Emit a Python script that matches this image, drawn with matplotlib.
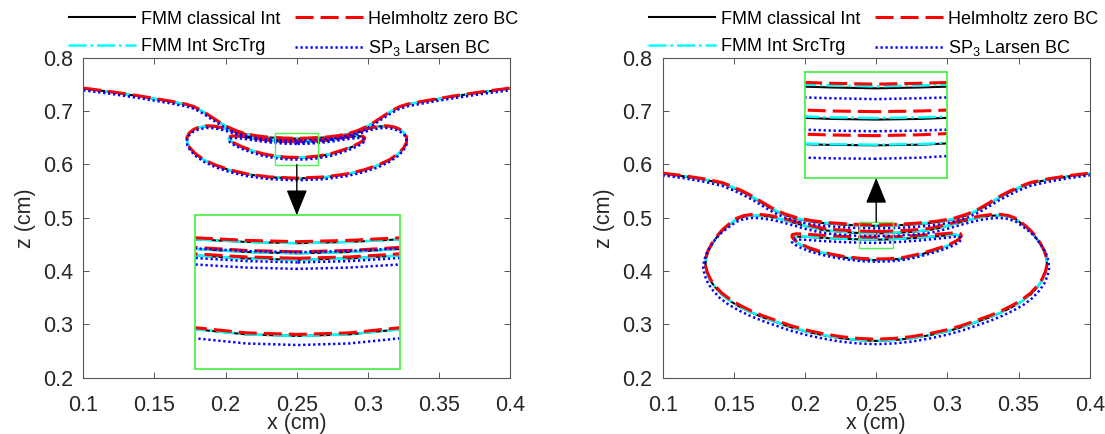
import matplotlib
matplotlib.use("Agg")
import matplotlib.pyplot as plt
from matplotlib.patches import Rectangle

plt.rcParams['font.family'] = ['Liberation Sans', 'DejaVu Sans']
plt.rcParams['mathtext.fontset'] = 'custom'
plt.rcParams['mathtext.rm'] = 'Liberation Sans'
plt.rcParams['mathtext.default'] = 'regular'

# ---------------- labels / ticks ----------------
series_labels = ['FMM classical Int', 'FMM Int SrcTrg', 'Helmholtz zero BC', 'SP$_3$ Larsen BC']
x_ticks = [0.1, 0.15, 0.2, 0.25, 0.3, 0.35, 0.4]
x_tick_labels = ['0.1', '0.15', '0.2', '0.25', '0.3', '0.35', '0.4']
z_ticks = [0.2, 0.3, 0.4, 0.5, 0.6, 0.7, 0.8]
z_tick_labels = ['0.2', '0.3', '0.4', '0.5', '0.6', '0.7', '0.8']
x_label = 'x (cm)'
z_label = 'z (cm)'

# ---------------- LEFT panel data ----------------
L_if_x = [0.100, 0.120, 0.140, 0.160, 0.172, 0.178, 0.184, 0.190, 0.196, 0.202, 0.208, 0.214,
          0.220, 0.227, 0.235, 0.2425, 0.250, 0.2575, 0.265, 0.273, 0.280, 0.286, 0.292, 0.298,
          0.304, 0.310, 0.316, 0.322, 0.328, 0.340, 0.360, 0.380, 0.400]
L_if_black = [0.7425, 0.7355, 0.7275, 0.7185, 0.7125, 0.7075, 0.6990, 0.6885, 0.6780, 0.6690, 0.6620,
              0.6570, 0.6537, 0.6512, 0.6497, 0.6487, 0.6482, 0.6487, 0.6497, 0.6512, 0.6537, 0.6570,
              0.6620, 0.6690, 0.6780, 0.6885, 0.6990, 0.7075, 0.7125, 0.7185, 0.7275, 0.7355, 0.7425]
L_if_cyan = L_if_black
L_if_red = [0.7431, 0.7361, 0.7281, 0.7191, 0.7131, 0.7081, 0.6996, 0.6891, 0.6786, 0.6696, 0.6626,
            0.6576, 0.6543, 0.6518, 0.6503, 0.6493, 0.6488, 0.6493, 0.6503, 0.6518, 0.6543, 0.6576,
            0.6626, 0.6696, 0.6786, 0.6891, 0.6996, 0.7081, 0.7131, 0.7191, 0.7281, 0.7361, 0.7431]
L_if_blue = [0.7390, 0.7320, 0.7240, 0.7150, 0.7090, 0.7040, 0.6955, 0.6850, 0.6745, 0.6655, 0.6585,
             0.6535, 0.6502, 0.6477, 0.6462, 0.6452, 0.6447, 0.6452, 0.6462, 0.6477, 0.6502, 0.6535,
             0.6585, 0.6655, 0.6745, 0.6850, 0.6955, 0.7040, 0.7090, 0.7150, 0.7240, 0.7320, 0.7390]

L_out_x = [0.250, 0.2425, 0.235, 0.227, 0.219, 0.211, 0.204, 0.198, 0.192, 0.1865, 0.1815, 0.1775,
           0.1745, 0.1728, 0.1730, 0.1750, 0.1790, 0.1850, 0.1930, 0.2030, 0.2150, 0.2300, 0.2500,
           0.2700, 0.2850, 0.2970, 0.3070, 0.3150, 0.3210, 0.3250, 0.3270, 0.3272, 0.3255, 0.3225,
           0.3185, 0.3135, 0.308, 0.302, 0.296, 0.289, 0.281, 0.273, 0.265, 0.2575, 0.250]
L_out_black = [0.6443, 0.6448, 0.6460, 0.6483, 0.6515, 0.6570, 0.6630, 0.6680, 0.6712, 0.6718, 0.6695,
               0.6650, 0.6585, 0.6500, 0.6400, 0.6300, 0.6190, 0.6080, 0.5980, 0.5890, 0.5815, 0.5760,
               0.5735, 0.5760, 0.5815, 0.5890, 0.5980, 0.6080, 0.6190, 0.6300, 0.6400, 0.6500, 0.6585,
               0.6650, 0.6695, 0.6718, 0.6712, 0.6680, 0.6630, 0.6570, 0.6515, 0.6483, 0.6460, 0.6448, 0.6443]
L_out_cyan = L_out_black
L_out_red = [0.6449, 0.6454, 0.6466, 0.6489, 0.6521, 0.6576, 0.6636, 0.6686, 0.6718, 0.6724, 0.6701,
             0.6656, 0.6591, 0.6506, 0.6406, 0.6306, 0.6196, 0.6086, 0.5986, 0.5896, 0.5821, 0.5766,
             0.5741, 0.5766, 0.5821, 0.5896, 0.5986, 0.6086, 0.6196, 0.6306, 0.6406, 0.6506, 0.6591,
             0.6656, 0.6701, 0.6724, 0.6718, 0.6686, 0.6636, 0.6576, 0.6521, 0.6489, 0.6466, 0.6454, 0.6449]
L_out_blue = [0.6408, 0.6413, 0.6425, 0.6448, 0.6480, 0.6535, 0.6595, 0.6645, 0.6677, 0.6683, 0.6660,
              0.6615, 0.6550, 0.6465, 0.6365, 0.6265, 0.6155, 0.6045, 0.5945, 0.5855, 0.5780, 0.5725,
              0.5700, 0.5725, 0.5780, 0.5855, 0.5945, 0.6045, 0.6155, 0.6265, 0.6365, 0.6465, 0.6550,
              0.6615, 0.6660, 0.6683, 0.6677, 0.6645, 0.6595, 0.6535, 0.6480, 0.6448, 0.6425, 0.6413, 0.6408]

L_in_x = [0.250, 0.2425, 0.235, 0.227, 0.219, 0.212, 0.2065, 0.2035, 0.2022, 0.2030, 0.2060, 0.2110,
          0.2180, 0.2260, 0.2350, 0.2425, 0.2500, 0.2575, 0.2650, 0.2740, 0.2820, 0.2890, 0.2940,
          0.2970, 0.2978, 0.2965, 0.2935, 0.288, 0.281, 0.273, 0.265, 0.2575, 0.250]
L_in_black = [0.6418, 0.6423, 0.6435, 0.6458, 0.6490, 0.6518, 0.6530, 0.6520, 0.6490, 0.6450, 0.6395,
              0.6330, 0.6260, 0.6195, 0.6150, 0.6130, 0.6124, 0.6130, 0.6150, 0.6195, 0.6260, 0.6330,
              0.6395, 0.6450, 0.6490, 0.6520, 0.6530, 0.6518, 0.6490, 0.6458, 0.6435, 0.6423, 0.6418]
L_in_cyan = L_in_black
L_in_red = [0.6424, 0.6429, 0.6441, 0.6464, 0.6496, 0.6524, 0.6536, 0.6526, 0.6496, 0.6456, 0.6401,
            0.6336, 0.6266, 0.6201, 0.6156, 0.6136, 0.6130, 0.6136, 0.6156, 0.6201, 0.6266, 0.6336,
            0.6401, 0.6456, 0.6496, 0.6526, 0.6536, 0.6524, 0.6496, 0.6464, 0.6441, 0.6429, 0.6424]
L_in_blue = [0.6383, 0.6388, 0.6400, 0.6423, 0.6455, 0.6483, 0.6495, 0.6485, 0.6455, 0.6415, 0.6360,
             0.6295, 0.6225, 0.6160, 0.6115, 0.6095, 0.6089, 0.6095, 0.6115, 0.6160, 0.6225, 0.6295,
             0.6360, 0.6415, 0.6455, 0.6485, 0.6495, 0.6483, 0.6455, 0.6423, 0.6400, 0.6388, 0.6383]

# zoom box and inset (left)
L_box = (0.235, 0.265, 0.5995, 0.6590)
L_inset = (0.1785, 0.3227, 0.2156, 0.5046)

# ---------------- RIGHT panel data ----------------
R_if_x = [0.100, 0.115, 0.130, 0.142, 0.150, 0.157, 0.164, 0.171, 0.178, 0.186, 0.195, 0.205, 0.215,
          0.225, 0.235, 0.2425, 0.250, 0.2575, 0.265, 0.275, 0.285, 0.295, 0.305, 0.314, 0.322, 0.329,
          0.336, 0.343, 0.350, 0.358, 0.370, 0.385, 0.400]
R_if_black = [0.5825, 0.5775, 0.5710, 0.5640, 0.5555, 0.5470, 0.5370, 0.5255, 0.5145, 0.5050, 0.4975,
              0.4925, 0.4893, 0.4872, 0.4858, 0.4852, 0.4848, 0.4852, 0.4858, 0.4872, 0.4893, 0.4925,
              0.4975, 0.5050, 0.5145, 0.5255, 0.5370, 0.5470, 0.5555, 0.5640, 0.5710, 0.5775, 0.5825]
R_if_cyan = [0.5828, 0.5780, 0.5717, 0.5648, 0.5564, 0.5479, 0.5379, 0.5264, 0.5154, 0.5059, 0.4984,
             0.4934, 0.4902, 0.4881, 0.4867, 0.4861, 0.4857, 0.4861, 0.4867, 0.4881, 0.4902, 0.4934,
             0.4984, 0.5059, 0.5154, 0.5264, 0.5379, 0.5479, 0.5564, 0.5648, 0.5717, 0.5780, 0.5828]
R_if_red = [0.5835, 0.5788, 0.5725, 0.5657, 0.5573, 0.5489, 0.5389, 0.5274, 0.5164, 0.5069, 0.4994,
            0.4944, 0.4912, 0.4891, 0.4877, 0.4871, 0.4867, 0.4871, 0.4877, 0.4891, 0.4912, 0.4944,
            0.4994, 0.5069, 0.5164, 0.5274, 0.5389, 0.5489, 0.5573, 0.5657, 0.5725, 0.5788, 0.5835]
R_if_blue = [0.5795, 0.5740, 0.5670, 0.5595, 0.5508, 0.5421, 0.5321, 0.5206, 0.5096, 0.5001, 0.4926,
             0.4876, 0.4844, 0.4823, 0.4809, 0.4803, 0.4799, 0.4803, 0.4809, 0.4823, 0.4844, 0.4876,
             0.4926, 0.5001, 0.5096, 0.5206, 0.5321, 0.5421, 0.5508, 0.5595, 0.5670, 0.5740, 0.5795]

R_big_x = [0.250, 0.2425, 0.235, 0.2225, 0.213, 0.2055, 0.1988, 0.191, 0.184, 0.177, 0.170, 0.1635,
           0.157, 0.1515, 0.1465, 0.142, 0.138, 0.1345, 0.1318, 0.1304,
           0.1300, 0.1312, 0.1335, 0.1370, 0.1415, 0.1475, 0.1545, 0.1620, 0.1700, 0.1790, 0.1890,
           0.2000, 0.2120, 0.2250, 0.2375, 0.2500,
           0.2625, 0.2750, 0.2880, 0.3000, 0.3110, 0.3210, 0.3300, 0.3380, 0.3455, 0.3525, 0.3585,
           0.3630, 0.3665, 0.3688, 0.3700, 0.3696,
           0.3682, 0.3655, 0.3620, 0.3580, 0.3535, 0.3485, 0.3430, 0.3365, 0.3300, 0.3230, 0.3160,
           0.3090, 0.3012, 0.2945, 0.2870, 0.2775, 0.2650, 0.2575, 0.2500]
R_big_black = [0.4706, 0.4709, 0.4717, 0.4740, 0.4766, 0.4810, 0.4855, 0.4915, 0.4965, 0.5010, 0.5035,
               0.5045, 0.5020, 0.4965, 0.4860, 0.4755, 0.4635, 0.4495, 0.4360, 0.4235,
               0.4100, 0.3960, 0.3820, 0.3690, 0.3560, 0.3435, 0.3325, 0.3225, 0.3135, 0.3050, 0.2955,
               0.2870, 0.2800, 0.2740, 0.2705, 0.2690,
               0.2705, 0.2740, 0.2800, 0.2870, 0.2955, 0.3050, 0.3135, 0.3225, 0.3325, 0.3435, 0.3560,
               0.3690, 0.3820, 0.3960, 0.4100, 0.4235,
               0.4360, 0.4495, 0.4635, 0.4755, 0.4860, 0.4965, 0.5020, 0.5045, 0.5035, 0.5010, 0.4965,
               0.4915, 0.4855, 0.4810, 0.4766, 0.4740, 0.4717, 0.4709, 0.4706]
R_big_cyan = [0.4713, 0.4716, 0.4723, 0.4745, 0.4770, 0.4813, 0.4857, 0.4917, 0.4967, 0.5012, 0.5037,
              0.5047, 0.5022, 0.4967, 0.4862, 0.4757, 0.4637, 0.4497, 0.4362, 0.4237,
              0.4102, 0.3962, 0.3823, 0.3693, 0.3563, 0.3439, 0.3329, 0.3229, 0.3139, 0.3054, 0.2959,
              0.2874, 0.2804, 0.2744, 0.2709, 0.2694,
              0.2709, 0.2744, 0.2804, 0.2874, 0.2959, 0.3054, 0.3139, 0.3229, 0.3329, 0.3439, 0.3563,
              0.3693, 0.3823, 0.3962, 0.4102, 0.4237,
              0.4362, 0.4497, 0.4637, 0.4757, 0.4862, 0.4967, 0.5022, 0.5047, 0.5037, 0.5012, 0.4967,
              0.4917, 0.4857, 0.4813, 0.4770, 0.4745, 0.4723, 0.4716, 0.4713]
R_big_red = [0.4742, 0.4745, 0.4752, 0.4773, 0.4798, 0.4840, 0.4884, 0.4942, 0.4990, 0.5033, 0.5057,
             0.5065, 0.5040, 0.4985, 0.4880, 0.4775, 0.4655, 0.4515, 0.4380, 0.4255,
             0.4120, 0.3985, 0.3848, 0.3718, 0.3588, 0.3465, 0.3355, 0.3255, 0.3165, 0.3080, 0.2985,
             0.2900, 0.2830, 0.2770, 0.2737, 0.2722,
             0.2737, 0.2770, 0.2830, 0.2900, 0.2985, 0.3080, 0.3165, 0.3255, 0.3355, 0.3465, 0.3588,
             0.3718, 0.3848, 0.3985, 0.4120, 0.4255,
             0.4380, 0.4515, 0.4655, 0.4775, 0.4880, 0.4985, 0.5040, 0.5065, 0.5057, 0.5033, 0.4990,
             0.4942, 0.4884, 0.4840, 0.4798, 0.4773, 0.4752, 0.4745, 0.4742]
R_big_blue_x = [0.250, 0.2425, 0.235, 0.2225, 0.213, 0.2055, 0.1988, 0.191, 0.184, 0.177, 0.170, 0.1635,
                0.157, 0.1515, 0.1460, 0.1410, 0.1368, 0.1333, 0.1305, 0.1290,
                0.1285, 0.1297, 0.1320, 0.1355, 0.1400, 0.1462, 0.1535, 0.1612, 0.1694, 0.1785, 0.1887,
                0.2000, 0.2120, 0.2250, 0.2375, 0.2500,
                0.2625, 0.2750, 0.2880, 0.3000, 0.3113, 0.3215, 0.3306, 0.3388, 0.3465, 0.3538, 0.3600,
                0.3645, 0.3680, 0.3703, 0.3715, 0.3710,
                0.3695, 0.3668, 0.3632, 0.3590, 0.3540, 0.3485, 0.3430, 0.3365, 0.3300, 0.3230, 0.3160,
                0.3090, 0.3012, 0.2945, 0.2870, 0.2775, 0.2650, 0.2575, 0.2500]
R_big_blue = [0.4653, 0.4656, 0.4663, 0.4686, 0.4712, 0.4756, 0.4801, 0.4862, 0.4912, 0.4958, 0.4985,
              0.4997, 0.4975, 0.4920, 0.4815, 0.4710, 0.4590, 0.4450, 0.4315, 0.4190,
              0.4050, 0.3905, 0.3762, 0.3630, 0.3498, 0.3372, 0.3262, 0.3162, 0.3072, 0.2987, 0.2892,
              0.2807, 0.2737, 0.2677, 0.2642, 0.2628,
              0.2642, 0.2677, 0.2737, 0.2807, 0.2892, 0.2987, 0.3072, 0.3162, 0.3262, 0.3372, 0.3498,
              0.3630, 0.3762, 0.3905, 0.4050, 0.4190,
              0.4315, 0.4450, 0.4590, 0.4710, 0.4815, 0.4920, 0.4975, 0.4997, 0.4985, 0.4958, 0.4912,
              0.4862, 0.4801, 0.4756, 0.4712, 0.4686, 0.4663, 0.4656, 0.4653]

R_in_x = [0.250, 0.2425, 0.235, 0.225, 0.215, 0.205, 0.1985, 0.1945, 0.1922, 0.1920, 0.1935, 0.1970,
          0.2030, 0.2110, 0.2200, 0.2300, 0.2400, 0.2500, 0.2600, 0.2700, 0.2800, 0.2890, 0.2965,
          0.3025, 0.3065, 0.3085, 0.3078, 0.3045, 0.2975, 0.2900, 0.2800, 0.2700, 0.2600, 0.2575, 0.2500]
R_in_black = [0.4589, 0.4591, 0.4596, 0.4605, 0.4618, 0.4635, 0.4646, 0.4645, 0.4625, 0.4595, 0.4550,
              0.4490, 0.4415, 0.4348, 0.4290, 0.4245, 0.4215, 0.4204, 0.4210, 0.4240, 0.4300, 0.4370,
              0.4435, 0.4500, 0.4565, 0.4625, 0.4670, 0.4685, 0.4665, 0.4645, 0.4625, 0.4608, 0.4595,
              0.4592, 0.4589]
R_in_cyan = [0.4592, 0.4594, 0.4599, 0.4608, 0.4621, 0.4638, 0.4649, 0.4648, 0.4628, 0.4598, 0.4553,
             0.4493, 0.4418, 0.4351, 0.4293, 0.4248, 0.4218, 0.4207, 0.4213, 0.4243, 0.4303, 0.4373,
             0.4438, 0.4503, 0.4568, 0.4628, 0.4673, 0.4688, 0.4668, 0.4648, 0.4628, 0.4611, 0.4598,
             0.4595, 0.4592]
R_in_rb_x = [0.250, 0.2425, 0.235, 0.225, 0.215, 0.205, 0.198, 0.1935, 0.1910, 0.1908, 0.1925, 0.1962,
             0.2025, 0.2105, 0.2195, 0.2295, 0.2400, 0.2500, 0.2600, 0.2705, 0.2805, 0.2895, 0.2972,
             0.3035, 0.3078, 0.3098, 0.3092, 0.3058, 0.2985, 0.2900, 0.2800, 0.2700, 0.2600, 0.2575, 0.2500]
R_in_red = [0.4633, 0.4636, 0.4642, 0.4652, 0.4665, 0.4682, 0.4695, 0.4698, 0.4680, 0.4640, 0.4585,
            0.4520, 0.4440, 0.4370, 0.4310, 0.4265, 0.4235, 0.4225, 0.4232, 0.4262, 0.4322, 0.4392,
            0.4458, 0.4525, 0.4590, 0.4652, 0.4700, 0.4718, 0.4702, 0.4685, 0.4668, 0.4652, 0.4640,
            0.4637, 0.4633]
R_in_blue = [0.4528, 0.4530, 0.4535, 0.4545, 0.4558, 0.4577, 0.4590, 0.4590, 0.4572, 0.4540, 0.4500,
             0.4445, 0.4375, 0.4312, 0.4258, 0.4215, 0.4185, 0.4175, 0.4182, 0.4212, 0.4272, 0.4340,
             0.4405, 0.4470, 0.4532, 0.4590, 0.4632, 0.4645, 0.4622, 0.4598, 0.4572, 0.4552, 0.4537,
             0.4533, 0.4528]

R_box = (0.238, 0.262, 0.4441, 0.4922)
R_inset = (0.200, 0.2995, 0.5746, 0.7731)

left_curves = [
    [(L_if_x, L_if_black), (L_out_x, L_out_black), (L_in_x, L_in_black)],
    [(L_if_x, L_if_cyan), (L_out_x, L_out_cyan), (L_in_x, L_in_cyan)],
    [(L_if_x, L_if_red), (L_out_x, L_out_red), (L_in_x, L_in_red)],
    [(L_if_x, L_if_blue), (L_out_x, L_out_blue), (L_in_x, L_in_blue)],
]
right_curves = [
    [(R_if_x, R_if_black), (R_big_x, R_big_black), (R_in_x, R_in_black)],
    [(R_if_x, R_if_cyan), (R_big_x, R_big_cyan), (R_in_x, R_in_cyan)],
    [(R_if_x, R_if_red), (R_big_x, R_big_red), (R_in_rb_x, R_in_red)],
    [(R_if_x, R_if_blue), (R_big_blue_x, R_big_blue), (R_in_rb_x, R_in_blue)],
]

# ---------------- styles ----------------
styles = [
    dict(color='black', lw=1.5, ls='-'),
    dict(color=(0, 1, 1), lw=1.8, dashes=(7.2, 1.6, 1.0, 1.6)),
    dict(color=(1, 0, 0), lw=2.2, dashes=(5.9, 2.3)),
    dict(color=(0, 0, 1), lw=1.8, dashes=(0.9, 1.1)),
]
green = (0.3, 0.95, 0.3)
frame_col = '#555555'
text_col = '#262626'
TICK_FS = 15.5
LEG_FS = 13

W, H = 1105, 434
fig = plt.figure(figsize=(W / 100, H / 100), dpi=100)


def draw_curves(ax, curves):
    handles = []
    for st, group in zip(styles, curves):
        h = None
        for (xs, zs) in group:
            ln, = ax.plot(xs, zs, solid_capstyle='butt', dash_capstyle='butt', **st)
            if h is None:
                h = ln
        handles.append(h)
    return handles


def setup_axes(ax):
    ax.set_xlim(0.1, 0.4)
    ax.set_ylim(0.2, 0.8)
    ax.set_xticks(x_ticks)
    ax.set_xticklabels(x_tick_labels)
    ax.set_yticks(z_ticks)
    ax.set_yticklabels(z_tick_labels)
    ax.tick_params(direction='in', length=4, width=0.7, top=True, right=True,
                   labelsize=TICK_FS, colors=frame_col, labelcolor=text_col)
    ax.tick_params(axis='x', pad=12.6)
    ax.tick_params(axis='y', pad=7.3)
    for s in ax.spines.values():
        s.set_color(frame_col)
        s.set_linewidth(0.8)
    ax.set_xlabel(x_label, fontsize=TICK_FS, color=text_col, labelpad=-2.0)
    ax.set_ylabel(z_label, fontsize=TICK_FS, color=text_col, labelpad=5)


def add_zoom(ax, curves, box, inset, up):
    bx0, bx1, bz0, bz1 = box
    ix0, ix1, iz0, iz1 = inset
    ax.add_patch(Rectangle((bx0, bz0), bx1 - bx0, bz1 - bz0, fill=False,
                           ec=green, lw=1.0, zorder=5))
    iax = ax.inset_axes([ix0, iz0, ix1 - ix0, iz1 - iz0], transform=ax.transData)
    draw_curves(iax, curves)
    iax.set_xlim(bx0, bx1)
    iax.set_ylim(bz0, bz1)
    iax.set_xticks([])
    iax.set_yticks([])
    for s in iax.spines.values():
        s.set_color(green)
        s.set_linewidth(1.3)
    xm = 0.5 * (bx0 + bx1)
    if up:
        start, end = (xm, bz1), (xm, iz0)
    else:
        start, end = (xm, bz0), (xm, iz1)
    ax.annotate('', xy=end, xytext=start,
                arrowprops=dict(arrowstyle='-|>,head_length=1.6,head_width=0.65',
                                mutation_scale=10, color='black', lw=1.0,
                                shrinkA=0, shrinkB=0), zorder=6)


ax_h = 320 / H
ax_w = 427 / W
ax_y = (H - 377.7) / H
axL = fig.add_axes([83.3 / W, ax_y, ax_w, ax_h])
axR = fig.add_axes([662.7 / W, ax_y, ax_w, ax_h])

for ax, curves, box, inset, up, lx in [
        (axL, left_curves, L_box, L_inset, False, 67.9),
        (axR, right_curves, R_box, R_inset, True, 648.0)]:
    handles = draw_curves(ax, curves)
    setup_axes(ax)
    add_zoom(ax, curves, box, inset, up)
    fig.legend(handles, series_labels, ncol=2, loc='upper left',
               bbox_to_anchor=(lx / W, 1 - 10.5 / H), frameon=False, fontsize=LEG_FS,
               handlelength=3.75, handletextpad=0.29, columnspacing=0.81,
               borderpad=0, borderaxespad=0, labelspacing=0.58)

fig.savefig('out.png', dpi=100)
